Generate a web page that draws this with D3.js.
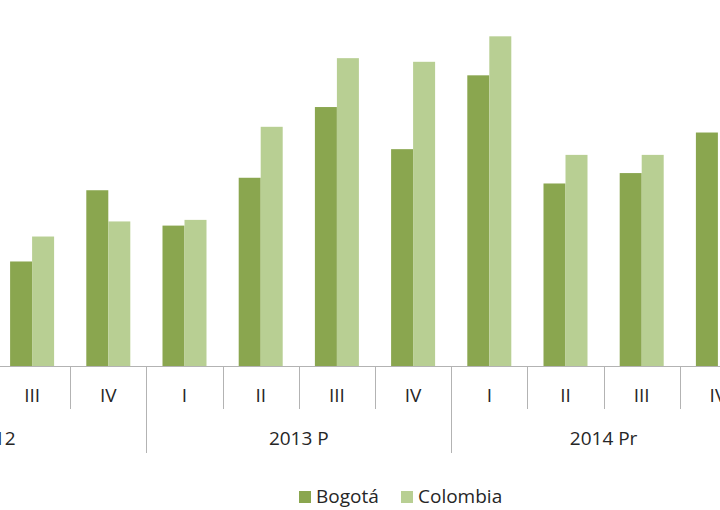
<!DOCTYPE html>
<html>
<head>
<meta charset="utf-8">
<script src="https://cdn.jsdelivr.net/npm/d3@7"></script>
<style>
  body { margin: 0; background: #fff; }
  svg { display: block; font-family: "Open Sans", sans-serif; }
</style>
</head>
<body>
<script>
// quarters (2012 I and II sit off the left edge of the crop, values not visible)
const years = ["2012", "2013 P", "2014 Pr"];
const quarters = ["I", "II", "III", "IV"];
const series = ["Bogotá", "Colombia"];
const bogota   = [null, null, 2.01, 3.38, 2.70, 3.62, 4.98, 4.17, 5.59, 3.51, 3.71, 4.49];
const colombia = [null, null, 2.49, 2.78, 2.81, 4.60, 5.92, 5.85, 6.34, 4.06, 4.06, null];
const colors = ["#8aa64f", "#b8cf93"];

const width = 720,
      height = 510;

const categories = [];
years.forEach(y => quarters.forEach(q => categories.push(y + "|" + q)));

const data = categories.map((c, i) => ({ key: c, values: [bogota[i], colombia[i]] }));

const baseline = 366;
const step = 76.2;
const x0 = -158.4;

const x = d3.scaleBand()
    .domain(categories)
    .range([x0, x0 + step * categories.length])
    .paddingInner(0)
    .paddingOuter(0);

const groupW = 44;
const x1 = d3.scaleBand()
    .domain(series)
    .range([0, groupW]);

const y = d3.scaleLinear()
    .domain([0, 7])
    .range([baseline, baseline - 7 * 52]);

const svg = d3.select("body")
    .append("svg")
    .attr("width", width)
    .attr("height", height);

// bars
const groups = svg.append("g")
    .selectAll("g")
    .data(data)
    .enter().append("g")
    .attr("transform", d => `translate(${x(d.key) + (x.bandwidth() - groupW) / 2},0)`);

groups.selectAll("rect")
    .data(d => d.values.map((v, i) => ({ s: series[i], v: v, i: i })).filter(e => e.v != null))
    .enter().append("rect")
    .attr("x", e => x1(e.s))
    .attr("width", x1.bandwidth())
    .attr("y", e => y(e.v))
    .attr("height", e => y(0) - y(e.v))
    .attr("fill", e => colors[e.i]);

// axis line
const axisColor = "#b3b3b3";
svg.append("line")
    .attr("x1", 0).attr("x2", width)
    .attr("y1", baseline + 0.5).attr("y2", baseline + 0.5)
    .attr("stroke", axisColor);

// category boundaries
const bounds = d3.range(categories.length + 1);
svg.append("g")
    .selectAll("line")
    .data(bounds)
    .enter().append("line")
    .attr("x1", i => Math.round(x0 + i * step) + 0.5)
    .attr("x2", i => Math.round(x0 + i * step) + 0.5)
    .attr("y1", baseline)
    .attr("y2", i => i % quarters.length === 0 ? 453 : 409)
    .attr("stroke", axisColor);

// quarter labels
svg.append("g")
    .selectAll("text")
    .data(categories)
    .enter().append("text")
    .attr("x", c => x(c) + x.bandwidth() / 2)
    .attr("y", 402)
    .attr("text-anchor", "middle")
    .attr("font-size", 19)
    .attr("fill", "#262626")
    .text(c => c.split("|")[1]);

// year labels
svg.append("g")
    .selectAll("text")
    .data(years)
    .enter().append("text")
    .attr("x", yr => x(yr + "|I") + step * quarters.length / 2)
    .attr("y", 445)
    .attr("text-anchor", "middle")
    .attr("font-size", 19)
    .attr("fill", "#262626")
    .text(yr => yr);

// legend
const legendX = [299, 401];
const legend = svg.append("g")
    .selectAll("g")
    .data(series)
    .enter().append("g")
    .attr("transform", (s, i) => `translate(${legendX[i]},491)`);

legend.append("rect")
    .attr("width", 12)
    .attr("height", 12)
    .attr("fill", (s, i) => colors[i]);

legend.append("text")
    .attr("x", 17)
    .attr("y", 12)
    .attr("font-size", 19)
    .attr("fill", "#262626")
    .text(s => s);
</script>
</body>
</html>
